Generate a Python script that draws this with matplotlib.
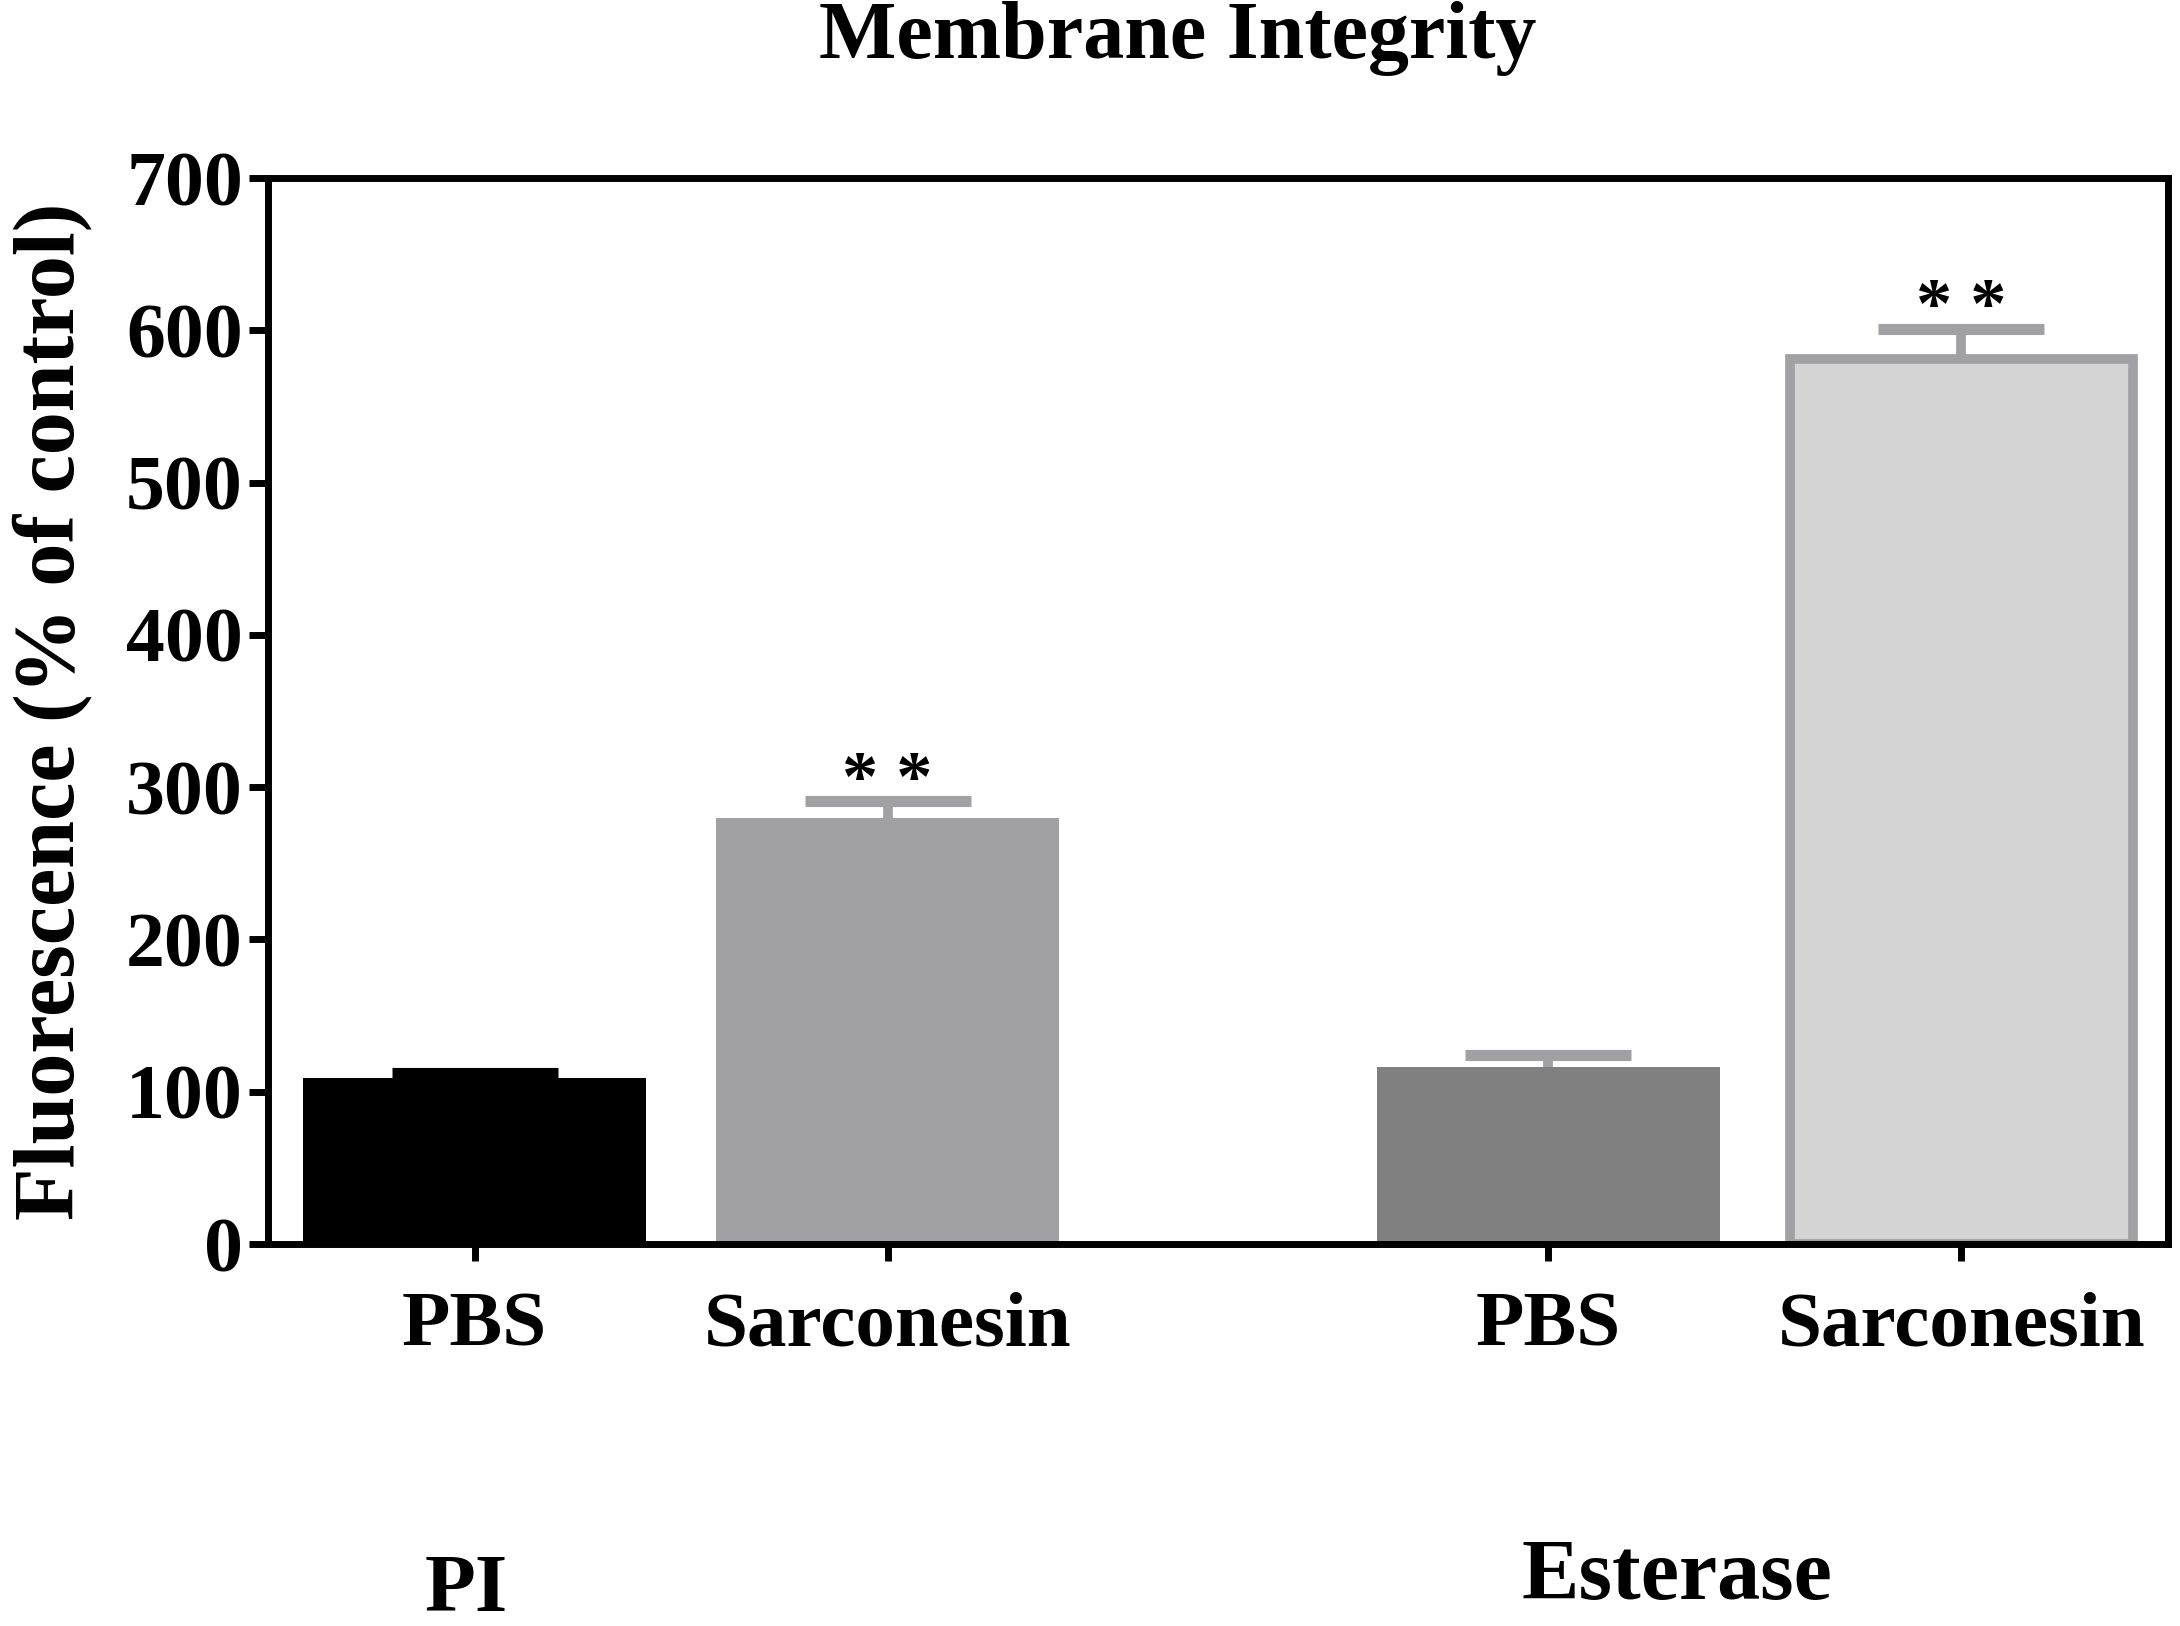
import numpy as np
import matplotlib
matplotlib.use("Agg")
import matplotlib.pyplot as plt

plt.rcParams['font.family'] = ['Liberation Serif', 'DejaVu Serif']
plt.rcParams['font.weight'] = 'bold'

groups = ["PI", "Esterase"]
labels = ["PBS", "Sarconesin", "PBS", "Sarconesin"]
values = [109, 280, 116, 581]
errors = [3, 11, 8, 20]
signif = ["", "* *", "", "* *"]

x = np.array([0, 1, 2.6, 3.6])
fills = ["#000000", "#a1a0a4", "#808080", "#d4d4d4"]
edges = ["#000000", "#a1a0a4", "#808080", "#a1a0a4"]
errcols = ["#000000", "#a1a0a4", "#a1a0a4", "#a1a0a4"]

fig = plt.figure(figsize=(21.8, 16.26), dpi=100)
ax = fig.add_axes([268 / 2180, 1 - 1244 / 1626, 1900 / 2180, 1066 / 1626])

for i in range(len(x)):
    lw = 7 if i == 3 else 0
    ax.bar(x[i], values[i], width=0.83, color=fills[i], edgecolor=edges[i],
           linewidth=lw, zorder=2)
    eb = ax.errorbar(x[i], values[i], yerr=[[0], [errors[i]]], fmt='none',
                     ecolor=errcols[i], elinewidth=7, capsize=60, capthick=8, zorder=3)
    # only the upper cap is wanted
    eb[1][0].set_visible(False)
    if signif[i]:
        ax.text(x[i], values[i] + errors[i] - 9, signif[i], ha='center', va='bottom',
                fontsize=52, fontweight='bold')

ax.set_xlim(-0.5, 4.1)
ax.set_ylim(0, 700)
ax.set_yticks(np.arange(0, 701, 100))
ax.set_xticks(x)
ax.set_xticklabels(labels)

for s in ax.spines.values():
    s.set_linewidth(5)
ax.tick_params(axis='y', direction='out', length=14, width=5, labelsize=56, pad=4)
ax.tick_params(axis='x', direction='out', length=12, width=5, labelsize=57, pad=22)

ax.set_ylabel("Fluorescence (% of control)", fontsize=62, fontweight='bold', labelpad=24)

fig.text(847 / 1568, 1 - 28 / 1170, "Membrane Integrity", ha='center', va='center',
         fontsize=59, fontweight='bold')
fig.text(335 / 1568, 1 - 1145 / 1170, groups[0], ha='center', va='center',
         fontsize=60, fontweight='bold')
fig.text(1206 / 1568, 1 - 1136 / 1170, groups[1], ha='center', va='center',
         fontsize=62, fontweight='bold')

fig.savefig("out.png", dpi=100)
